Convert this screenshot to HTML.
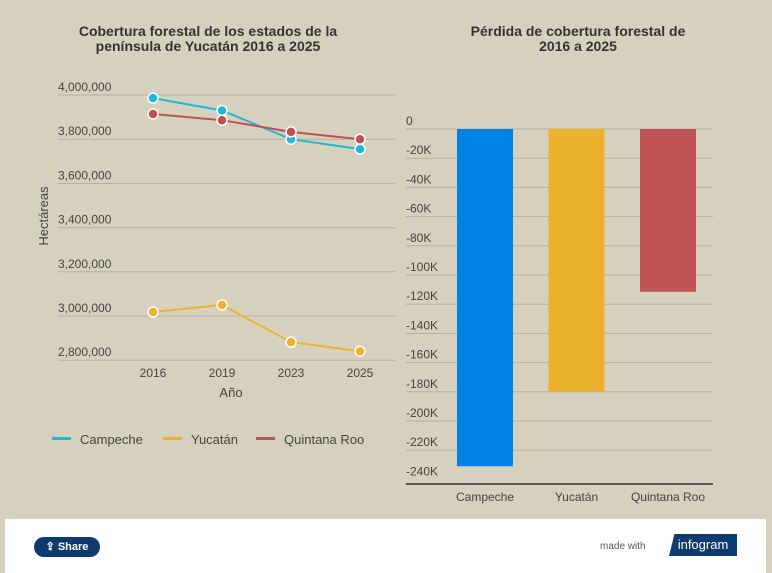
<!DOCTYPE html>
<html><head><meta charset="utf-8"><style>
body{margin:0;width:772px;height:573px;background:#d6d1bf;font-family:"Liberation Sans",sans-serif;overflow:hidden;position:relative}
svg{position:absolute;left:0;top:0}
.footer{position:absolute;left:5px;top:519px;width:761px;height:54px;background:#fff}
.share{position:absolute;left:29px;top:18px;width:66px;height:20px;border-radius:10px;background:#0f3a6e;color:#fff;font-size:11px;font-weight:bold;line-height:20px;text-align:center}
.made{position:absolute;left:595px;top:22px;font-size:10px;color:#555}
.logo{position:absolute;left:664px;top:15px;width:68px;height:22px;background:#0f3a6e;color:#fff;font-size:13px;line-height:22px;text-align:center;clip-path:polygon(8% 0,100% 0,100% 100%,0 100%)}
</style></head><body>
<svg id="c" width="772" height="519"></svg>
<div class="footer">
<div class="share">⇪ Share</div>
<div class="made">made with</div>
<div class="logo">infogram</div>
</div>
<script>
const years=["2016","2019","2023","2025"];
const campeche=[3986000,3930000,3800000,3755000];
const yucatan=[3018000,3050000,2882000,2840000];
const quintana=[3914000,3886000,3833000,3800000];
const lineTicks=[4000000,3800000,3600000,3400000,3200000,3000000,2800000];
const barCats=["Campeche","Yucatán","Quintana Roo"];
const barVals=[-231000,-180000,-111500];
const barTicks=[0,-20000,-40000,-60000,-80000,-100000,-120000,-140000,-160000,-180000,-200000,-220000,-240000];
const NS="http://www.w3.org/2000/svg",svg=document.getElementById('c');
function el(t,a,txt){const e=document.createElementNS(NS,t);for(const k in a)e.setAttribute(k,a[k]);if(txt!=null)e.textContent=txt;svg.appendChild(e);return e;}
// titles
let t=el('text',{x:208,y:36,'text-anchor':'middle','font-size':14,'font-weight':'bold',fill:'#333'},'Cobertura forestal de los estados de la');

t=el('text',{x:208,y:51,'text-anchor':'middle','font-size':14,'font-weight':'bold',fill:'#333'},'península de Yucatán 2016 a 2025');

t=el('text',{x:578,y:36,'text-anchor':'middle','font-size':14,'font-weight':'bold',fill:'#333'},'Pérdida de cobertura forestal de');

t=el('text',{x:578,y:51,'text-anchor':'middle','font-size':14,'font-weight':'bold',fill:'#333'},'2016 a 2025');

// line chart
const yL=v=>95+(4000000-v)/200000*44.2;
const xL=i=>153+i*69;
lineTicks.forEach(v=>{
 let g=el('line',{x1:58,x2:395,y1:yL(v),y2:yL(v),stroke:'#b5b09e','stroke-width':1});
 
 let l=el('text',{x:58,y:yL(v)-4,'font-size':12,fill:'#444'},v.toLocaleString('en-US'));
 
});
years.forEach((y,i)=>{let l=el('text',{x:xL(i),y:377,'text-anchor':'middle','font-size':12,fill:'#444'},y);
 });
t=el('text',{x:231,y:397,'text-anchor':'middle','font-size':13,fill:'#444'},'Año');

t=el('text',{x:0,y:0,transform:'translate(48,216) rotate(-90)','text-anchor':'middle','font-size':13,fill:'#444'},'Hectáreas');

[[campeche,'#1fb8d8','campeche'],[quintana,'#c05050','quintana-roo'],[yucatan,'#ecb22e','yucatan']].forEach(([d,c,n])=>{
 let p=el('polyline',{points:d.map((v,i)=>xL(i)+','+yL(v)).join(' '),fill:'none',stroke:c,'stroke-width':2});
 
 d.forEach((v,i)=>{let q=el('circle',{cx:xL(i),cy:yL(v),r:5,fill:c,stroke:'#fff','stroke-width':1.5});
  });
});
[['Campeche','#1fb8d8',52],['Yucatán','#ecb22e',163],['Quintana Roo','#c05050',256]].forEach(([n,c,x])=>{
 let r=el('rect',{x:x,y:437,width:19,height:3,fill:c});
 
 let l=el('text',{x:x+28,y:444,'font-size':13,fill:'#444'},n);
 
});
// bar chart
const yB=v=>129+(-v)/20000*29.2;
const xB=i=>485+i*91.5;
barTicks.forEach((v,i)=>{
 if(i<barTicks.length-1){let g=el('line',{x1:406,x2:713,y1:yB(v),y2:yB(v),stroke:'#b5b09e','stroke-width':1});
 }
 let l=el('text',{x:406,y:yB(v)-4,'font-size':12,fill:'#444'},v===0?'0':'-'+(-v/1000)+'K');
 
});
const bc=['#0283e3','#ecb22e','#c05454'];
barVals.forEach((v,i)=>{
 let r=el('rect',{x:xB(i)-28,y:yB(0),width:56,height:yB(v)-yB(0),fill:bc[i]});
 
 let l=el('text',{x:xB(i),y:501,'text-anchor':'middle','font-size':12,fill:'#444'},barCats[i]);
 
});
t=el('line',{x1:406,x2:713,y1:484,y2:484,stroke:'#555','stroke-width':2});

</script>
</body></html>
